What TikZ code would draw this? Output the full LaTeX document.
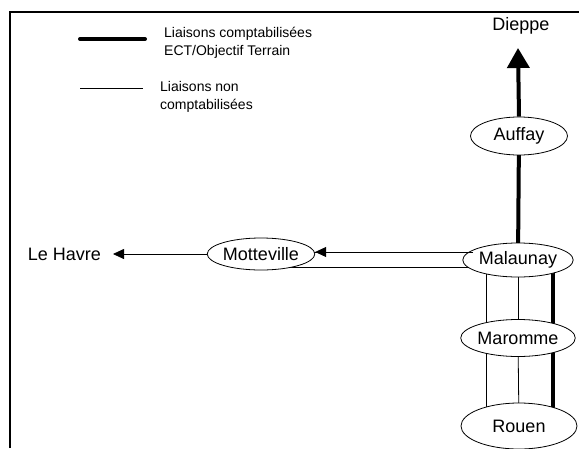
\documentclass[tikz,border=0pt]{standalone}
\usepackage{fontspec}
\setmainfont{Liberation Sans}
\usetikzlibrary{shapes.geometric,arrows.meta,calc,backgrounds}
\begin{document}
\begin{tikzpicture}[x=1pt,y=-1pt,
  town/.style={ellipse,draw,fill=white,line width=0.8pt,inner sep=0pt,font=\fontsize{18}{20}\selectfont},
  label/.style={inner sep=0pt,font=\fontsize{18}{20}\selectfont},
  legtext/.style={anchor=west,align=left,inner sep=0pt,font=\fontsize{14}{18}\selectfont},
  thickline/.style={line width=4pt},
  thinline/.style={line width=0.8pt},
  bigtip/.style={-{Triangle[width=22pt,length=20pt]}},
  smalltip/.style={-{Triangle[width=10pt,length=11pt]}}]
\useasboundingbox (0,0) rectangle (579,448);
% frame
\draw[line width=2pt] (10,448) -- (10,12) -- (579,12);
% legend
\coordinate (l1a) at (80,39);
\coordinate (l1b) at (145,39);
\coordinate (l2a) at (80,88);
\coordinate (l2b) at (143,88);
\draw[thickline,line cap=round] (l1a) -- (l1b);
\draw[thinline] (l2a) -- (l2b);
\node[legtext] (leg1) at (164,43) {Liaisons comptabilisées\\ECT/Objectif Terrain};
\node[legtext] (leg2) at (160,97) {Liaisons non\\comptabilisées};
% towns
\node[town,minimum width=97pt,minimum height=38pt] (auf) at (519,136) {Auffay};
\node[town,minimum width=99pt,minimum height=34pt] (mal) at (518,260) {Malaunay};
\node[town,minimum width=98pt,minimum height=37pt] (mar) at (518,338) {Maromme};
\node[town,minimum width=116pt,minimum height=46pt] (rou) at (519,426) {Rouen};
\node[town,minimum width=98pt,minimum height=32pt] (mot) at (261,254) {Motteville};
\node[label] (die) at (521,26) {Dieppe};
\node[label,anchor=east] (lh) at (101,254) {Le Havre};
\coordinate (dtip) at (518,48);
\coordinate (lhtip) at (113,254);
% connectors
\begin{scope}[on background layer]
\draw[thickline] (mal.center) -- (auf.center);
\draw[thinline] ($(mal.center)+(-32,0)$) -- ($(rou.center)+(-33,0)$);
\draw[thinline] (mal.center) -- (mar.center);
\draw[thinline] (mar.center) -- (rou.center);
\draw[thickline] ($(mal.center)+(35,0)$) -- ($(rou.center)+(34,0)$);
\draw[thinline] ($(mal.center)+(0,7)$) -- ($(mot.center)+(0,13)$);
\draw[thinline] ($(mal.center)+(0,-8)$) -- ($(mot.center)+(0,-2)$);
\end{scope}
\draw[thickline,bigtip] (auf.north) -- (dtip);
\draw[thinline,smalltip] ($(mal.center)+(-45,-8)$) -- ($(mot.east)+(0,-2)$);
\draw[thinline,smalltip] (mot.west) -- (lhtip);
\end{tikzpicture}
\end{document}
